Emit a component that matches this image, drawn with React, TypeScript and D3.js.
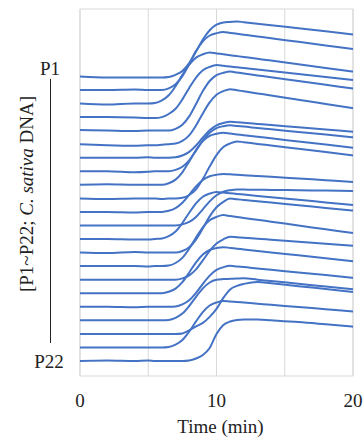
import React from "react";
import * as d3 from "d3";

// sampling times (min)
const times = [0, 2, 4, 5, 5.5, 6, 6.5, 7, 7.5, 8, 8.5, 9, 9.5, 10, 10.5, 11, 11.5, 12, 13, 14, 16, 18, 20];

// trace names, top to bottom
const traces = ["P1", "P2", "P3", "P4", "P5", "P6", "P7", "P8", "P9", "P10", "P11",
  "P12", "P13", "P14", "P15", "P16", "P17", "P18", "P19", "P20", "P21", "P22"];

// stacking offset of each trace (a.u.)
const offsets = [299.6, 286.0, 272.5, 258.9, 245.4, 231.8, 218.3, 204.7, 191.2, 177.6, 164.1,
  150.5, 137.0, 123.4, 109.9, 96.3, 82.8, 69.2, 55.7, 42.1, 28.6, 15.0];

// signal above each trace's own baseline (a.u.)
const p1 = [0, -1, -1, -1, -1, -1, -0.5, 1.6, 5.5, 13.2, 24.8, 36.9, 46.2, 51.7, 53.9, 54.5, 55, 54.2, 52.7, 51.2, 48.1, 45.1, 42];
const p2 = [0, 0, 0.5, 0, 0, 0, 1.7, 5.8, 13.9, 26.1, 38.9, 48.7, 54.5, 56.8, 58, 57.1, 56.2, 55.3, 53.5, 51.7, 48.2, 44.6, 41];
const p3 = [0, -1, 0, 0, 0.5, 3.1, 8.2, 17.3, 28.6, 38.8, 45.9, 49.2, 51, 50.1, 49.2, 48.3, 47.4, 46.5, 44.7, 42.9, 39.2, 35.6, 32];
const p4 = [0, 0, -0.5, -1, -1, 0, 3.1, 8.3, 17.7, 29.1, 39.5, 46.8, 50.2, 52, 51.3, 50.5, 49.8, 49, 47.5, 46, 43, 40, 37];
const p5 = [0.5, 0, -0.5, 0, 0, 0, 0, 1.8, 5.9, 14.2, 26.6, 39.5, 49.6, 55.5, 57.8, 59, 58.1, 57.1, 55.2, 53.3, 49.6, 45.8, 42];
const p6 = [0, -1, -1.5, -1, -1, -0.5, 0, 0.6, 3.3, 8.8, 18.7, 30.8, 41.8, 49.5, 53.1, 55, 53.9, 52.9, 50.8, 48.7, 44.4, 40.2, 36];
const p7 = [0, 0, 0, 0.5, 0, 0, 0, 0.4, 2.2, 5.8, 12.2, 20.2, 27.4, 32.4, 34.7, 36, 35.4, 34.9, 33.8, 32.7, 30.4, 28.2, 26];
const p8 = [0, 0, -1, -0.5, 0, 0, 0, 1.4, 4.6, 11, 20.7, 30.8, 38.6, 43.2, 45.1, 46, 45.3, 44.7, 43.3, 42, 39.3, 36.7, 34];
const p9 = [0, 0.5, 0, 0, 0, 0, 1.6, 5.2, 12.5, 23.4, 34.8, 43.7, 48.9, 51, 52, 51.2, 50.4, 49.6, 48, 46.5, 43.3, 40.2, 37];
const p10 = [0, -0.5, 0, 0, 0, -0.5, 0, 0, 0.6, 3.4, 9.1, 19.4, 31.9, 43.3, 51.3, 55, 57, 56.2, 54.5, 52.9, 49.6, 46.3, 43];
const p11 = [0, 0, -0.5, 0, 0, 0, 1.1, 3.8, 9.1, 17.1, 25.5, 31.9, 35.7, 37.2, 38, 37.6, 37.2, 36.7, 35.9, 35.1, 33.4, 31.7, 30];
const p12 = [0, 0, 0, 0, 0, 0, 0, 0, 1.1, 3.6, 8.6, 16.2, 24.1, 30.2, 33.8, 35.3, 36, 35.9, 35.7, 35.6, 35.2, 34.9, 34.5];
const p13 = [0, 0, -0.5, -0.5, 0, 0.5, 2.8, 7.5, 16, 26.3, 35.7, 42.3, 45.4, 47, 46.4, 45.7, 45.1, 44.4, 43.1, 41.8, 39.2, 36.6, 34];
const p14 = [0, -0.5, 0.5, 0, 0, 0, 0, 0, 1.6, 5.4, 13, 24.3, 36.2, 45.4, 50.8, 54, 53.3, 52.7, 51.3, 50, 47.3, 44.7, 42];
const p15 = [0, 0, 0, -0.5, 0, 0, 0.5, 3.1, 8.2, 17.3, 28.6, 38.8, 45.9, 49.2, 51, 50.1, 49.1, 48.2, 46.3, 44.4, 40.6, 36.8, 33];
const p16 = [0, 0, 0, 0, 0, 0, 0, 0, 1.3, 4.3, 10.3, 19.4, 28.8, 36.1, 40.4, 43, 42.5, 42, 41, 40, 38, 36, 34];
const p17 = [0, 0, 0, 0, 0, 0, 1.4, 4.6, 11, 20.7, 30.8, 38.6, 43.2, 45.1, 46, 45.3, 44.5, 43.8, 42.3, 40.8, 37.9, 34.9, 32];
const p18 = [0, 0, -0.5, 0, 0, 0, 0, 0.4, 2.5, 6.6, 13.9, 23, 31.2, 36.9, 39.6, 41, 40.3, 39.7, 38.3, 37, 34.3, 31.7, 29];
const p19 = [0, 0, 0, 0, 0, 0, 0.4, 2.5, 6.7, 14.3, 23.5, 31.9, 37.8, 40.5, 41.2, 41.5, 41.8, 42, 40.6, 39.3, 36.5, 33.8, 31];
const p20 = [0, 0, 0, 0, 0, 0, 0, 0, 0.5, 3.5, 7.5, 11, 17, 25, 36, 44.5, 48, 50, 52, 50.6, 47.7, 44.9, 42];
const p21 = [0, 0, 0, 0, 0, 0, 0.5, 2.8, 7.4, 15.8, 26, 35.3, 41.9, 44.9, 46.5, 45.9, 45.4, 44.8, 43.7, 42.6, 40.4, 38.2, 36];
const p22 = [0, 0.5, 0, 0.5, 0, 0, 0, 0, 0, 0.5, 2.5, 6, 13, 27, 36, 39.5, 41, 41.5, 41.5, 40.7, 39, 36.7, 34.3];

const signals = [p1, p2, p3, p4, p5, p6, p7, p8, p9, p10, p11, p12, p13, p14, p15, p16, p17, p18, p19, p20, p21, p22];

const xTicks = [0, 10, 20];
const xGrid = [0, 5, 10, 15, 20];

export default function App() {
  const width = 364, height = 444;
  const margin = { top: 9, right: 11, bottom: 68, left: 80 };
  const font = "'Liberation Serif', 'Times New Roman', serif";

  const x = d3.scaleLinear().domain([0, 20]).range([margin.left, width - margin.right]);
  const y = d3.scaleLinear().domain([0, 367]).range([height - margin.bottom, margin.top]);

  const line = d3.line<number>()
    .x((_, i) => x(times[i]))
    .y(d => y(d))
    .curve(d3.curveMonotoneX);

  const plotBottom = height - margin.bottom;
  const first = y(offsets[0]);
  const last = y(offsets[offsets.length - 1]);

  return (
    <svg width={width} height={height} style={{ position: "absolute", left: 0, top: 0 }} fontFamily={font}>
      <rect x={margin.left} y={margin.top} width={width - margin.right - margin.left}
        height={plotBottom - margin.top} fill="none" stroke="#d9d9d9" />
      {xGrid.map(t => (
        <line key={t} x1={x(t)} x2={x(t)} y1={margin.top} y2={plotBottom} stroke="#d9d9d9" />
      ))}

      {signals.map((s, k) => (
        <path key={traces[k]} d={line(s.map(v => v + offsets[k])) || ""}
          fill="none" stroke="#4472C4" strokeWidth={2} strokeLinejoin="round" />
      ))}

      {xTicks.map(t => (
        <text key={t} x={x(t)} y={407} textAnchor="middle" fontSize={19} fill="#222">{t}</text>
      ))}
      <text x={(margin.left + width - margin.right) / 2 + 4} y={433} textAnchor="middle" fontSize={19} fill="#222">Time (min)</text>

      {/* stacked-trace y label */}
      <text x={50} y={first - 1.5} textAnchor="middle" fontSize={19} fill="#222">{traces[0]}</text>
      <text x={49} y={last + 7} textAnchor="middle" fontSize={19} fill="#222">{traces[traces.length - 1]}</text>
      <line x1={50.5} x2={50.5} y1={first + 2.5} y2={last - 18} stroke="#222" strokeWidth={1} />
      <text transform={`translate(33,194) rotate(-90)`} textAnchor="middle" fontSize={19} fill="#222">
        [P1~P22; <tspan fontStyle="italic">C. sativa</tspan> DNA]
      </text>
    </svg>
  );
}
